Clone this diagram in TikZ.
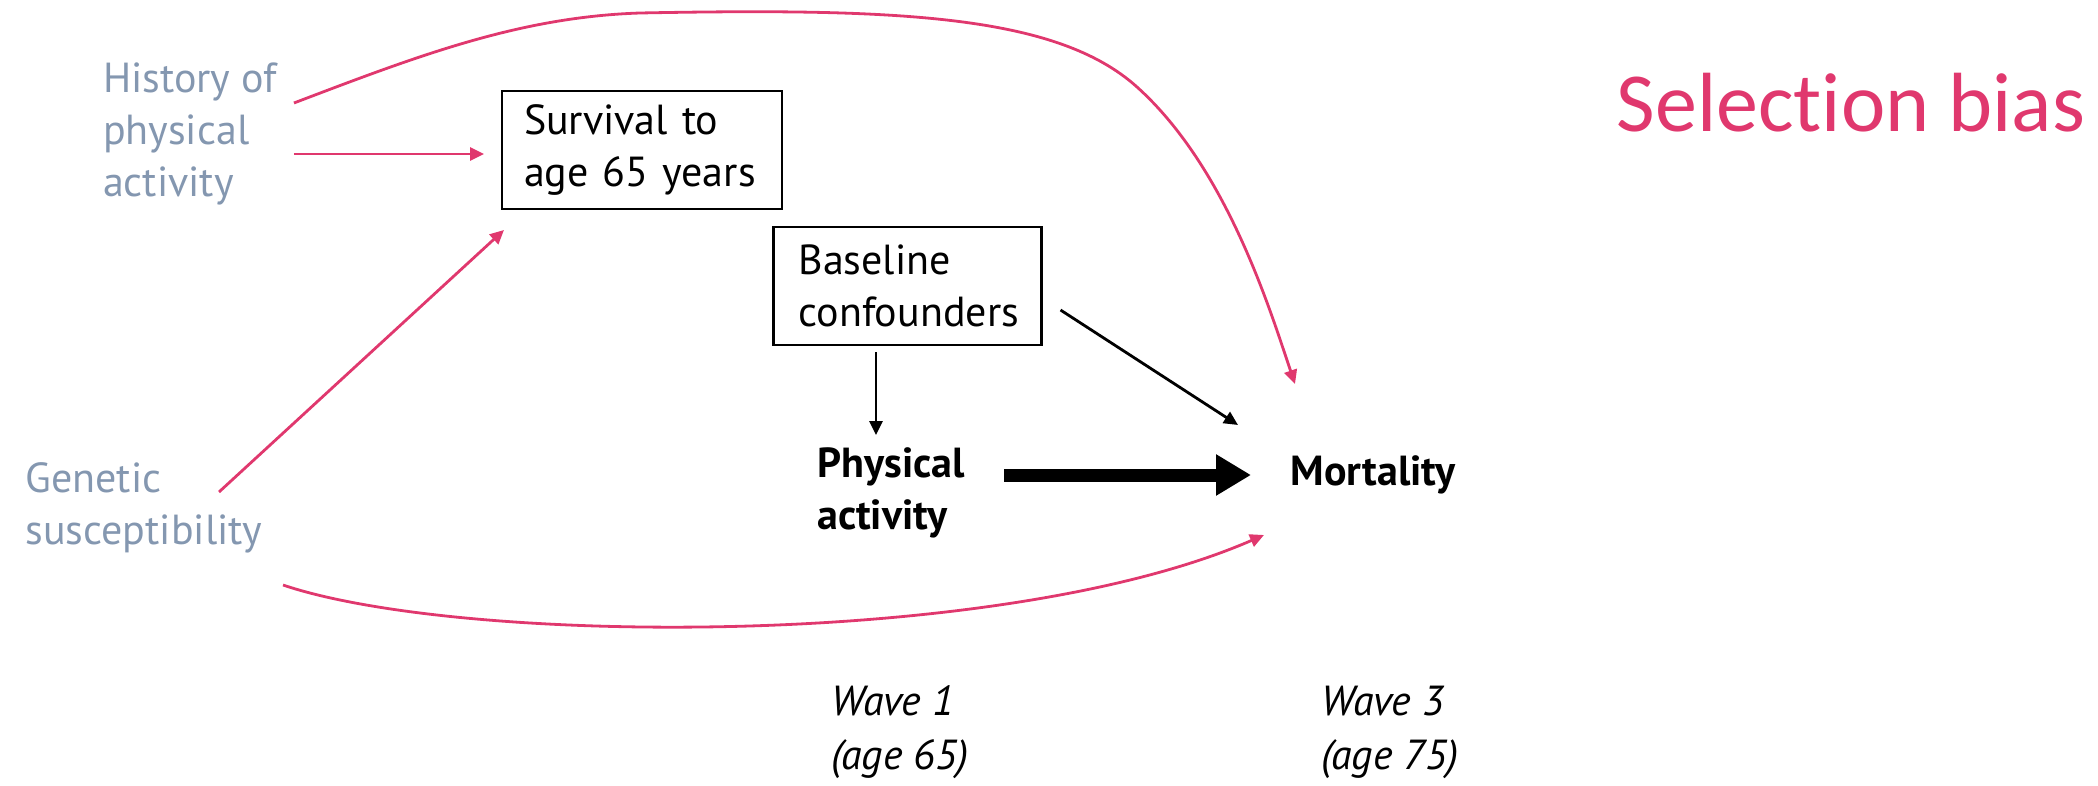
\documentclass[tikz,border=0pt]{standalone}
\usepackage{fontspec}
\setmainfont{PT Sans}
\newfontfamily\titlefont[Ligatures=NoCommon]{Carlito}
\usetikzlibrary{arrows.meta}
\definecolor{biaspink}{RGB}{224,56,110}
\definecolor{slateblue}{RGB}{132,151,176}
\begin{document}
\begin{tikzpicture}[x=0.5pt,y=-0.5pt,
  txt/.style={inner sep=0pt,outer sep=0pt,align=left,font=\fontsize{21}{26}\selectfont},
  grey/.style={txt,text=slateblue},
  boxed/.style={txt,draw,line width=1.3pt,inner xsep=11pt,minimum height=59pt},
  pa/.style={draw=biaspink,line width=1.4pt,-{Triangle[length=7pt,width=6.5pt]}},
  ba/.style={draw=black,line width=1.4pt,-{Triangle[length=7pt,width=6.5pt]}},
  bigarrow/.style={draw=black,line width=6.5pt,-{Triangle[length=17.5pt,width=19.5pt]}}]
\useasboundingbox (0,0) rectangle (2098,786);

% variables
\node[grey] (hist) at (190,134) {History of\\physical\\activity};
\node[grey] (gen) at (144,508) {Genetic\\susceptibility};
\node[boxed,text width=118pt] (surv) at (642,150) {Survival to\\age 65 years};
\node[boxed,text width=109pt,inner xsep=12.5pt] (base) at (907.5,286) {Baseline\\confounders};
\node[txt,font=\fontsize{21}{26}\selectfont\bfseries] (phys) at (891,493) {Physical\\activity};
\node[txt,font=\fontsize{21}{26}\selectfont\bfseries] (mort) at (1373,475) {Mortality};

% timing labels
\node[txt,font=\fontsize{21}{27}\selectfont\itshape] (w1) at (900,732) {Wave 1\\(age 65)};
\node[txt,font=\fontsize{21}{27}\selectfont\itshape] (w3) at (1390,732) {Wave 3\\(age 75)};

% heading
\node[inner sep=0pt,text=biaspink,font=\titlefont\fontsize{42}{48}\selectfont] (title) at (1851,103) {Selection bias};

% selection paths
\draw[pa] ([shift={(17,20)}]hist.east) -- ([shift={(-18,4)}]surv.west);
\draw[pa] ([shift={(17,-31)}]hist.east)
  .. controls (420,55) and (520,17) .. (640,13)
  .. controls (900,8) and (1057,15) .. (1137,87)
  .. controls (1227,168) and (1270,310) .. ([shift={(-78,-91)}]mort.center);
\draw[pa] ([shift={(75,-16)}]gen.center) -- ([shift={(2,21)}]surv.south west);
\draw[pa] ([shift={(139,77)}]gen.center)
  .. controls (460,645) and (1000,650) .. ([shift={(-109,60)}]mort.center);

% causal paths
\draw[ba] ([shift={(-31.5,7)}]base.south) -- ([shift={(-15,-58)}]phys.center);
\draw[ba] ([shift={(19,24)}]base.east) -- ([shift={(-135,-50)}]mort.center);
\draw[bigarrow] ([shift={(113,-18)}]phys.center) -- ([shift={(-122,0)}]mort.center);
\end{tikzpicture}
\end{document}
